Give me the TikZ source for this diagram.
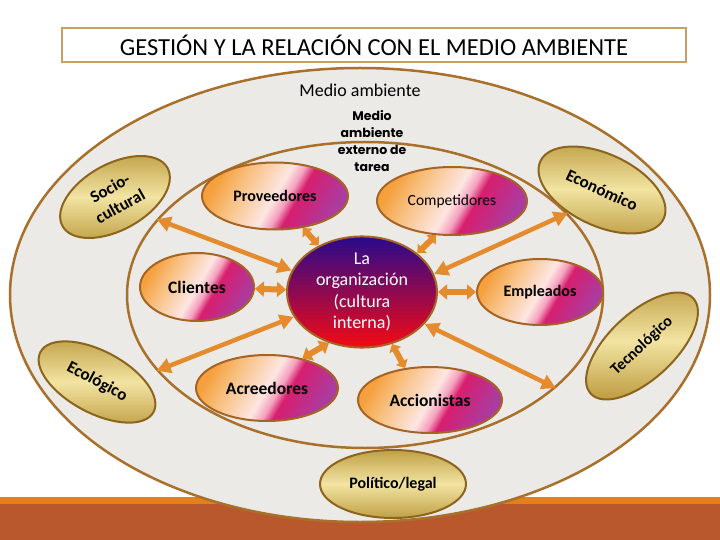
\documentclass[tikz,border=0pt]{standalone}
\usepackage{fontspec}
\setmainfont{Carlito}
\newfontfamily\gothicfont{Poppins}
\usepackage{tikz}
\usetikzlibrary{arrows.meta,shapes.geometric}
\definecolor{titleline}{RGB}{200,160,96}
\definecolor{ringline}{RGB}{168,112,42}
\definecolor{ringfill}{RGB}{236,234,230}
\definecolor{entline}{RGB}{165,100,35}
\definecolor{arrowor}{RGB}{228,140,45}
\definecolor{barorange}{RGB}{226,128,32}
\definecolor{barrust}{RGB}{185,88,45}
\definecolor{goldD}{RGB}{192,160,70}
\definecolor{goldL}{RGB}{242,228,162}
\definecolor{goldline}{RGB}{140,100,30}
\definecolor{orgtop}{RGB}{40,10,140}
\definecolor{orgmid}{RGB}{140,10,130}
\definecolor{orgbot}{RGB}{245,10,20}
\definecolor{entA}{RGB}{245,160,60}
\definecolor{entB}{RGB}{248,192,128}
\definecolor{entC}{RGB}{253,230,226}
\definecolor{entD}{RGB}{245,160,190}
\definecolor{entE}{RGB}{215,30,110}
\definecolor{entF}{RGB}{170,60,160}
\pgfdeclarehorizontalshading{entshade}{100bp}{color(0bp)=(entA); color(25bp)=(entA);
  color(35bp)=(entB); color(50bp)=(entC); color(55bp)=(entD); color(59bp)=(entE);
  color(75bp)=(entF); color(100bp)=(entF)}
\tikzset{
  titlebox/.style={rectangle, draw=titleline, line width=2, fill=white,
                   minimum width=624, minimum height=34, inner sep=0,
                   font=\fontsize{24.5}{28}\selectfont},
  envell/.style  ={ellipse, draw=ringline, line width=2.5, fill=ringfill, inner sep=0},
  taskell/.style ={ellipse, draw=ringline, line width=2.5, inner sep=0},
  gold/.style    ={ellipse, draw=goldline, line width=2, top color=goldD,
                   bottom color=goldD, middle color=goldL, inner sep=0, align=center,
                   font=\bfseries\fontsize{17}{21}\selectfont},
  ent/.style     ={ellipse, draw=entline, line width=2, shading=entshade,
                   shading angle=-30, inner sep=0, font=\bfseries\fontsize{16}{19}\selectfont},
  orgnode/.style ={ellipse, draw=entline, line width=2, top color=orgtop,
                   middle color=orgmid, bottom color=orgbot, inner sep=0, align=center,
                   text=white, font=\fontsize{18}{21.5}\selectfont},
  lbl/.style     ={inner sep=0, font=\fontsize{18}{21}\selectfont},
  lbltask/.style ={inner sep=0, align=center, font=\gothicfont\bfseries\fontsize{12.5}{16.7}\selectfont},
  twoway/.style  ={{Triangle[length=14,width=15]}-{Triangle[length=14,width=15]},
                   line width=4.5, draw=arrowor},
  twowayS/.style ={{Triangle[length=9,width=15]}-{Triangle[length=9,width=15]},
                   line width=6, draw=arrowor},
}

\begin{document}
\begin{tikzpicture}[x=1pt, y=-1pt]
  \useasboundingbox (0,0) rectangle (720,540);
  % franjas inferiores
  \fill[barorange] (0,497) rectangle (720,504);
  \fill[barrust] (0,504) rectangle (720,540);
  \node[titlebox] (title) at (374,45) {GESTIÓN Y LA RELACIÓN CON EL MEDIO AMBIENTE};
  % medio ambiente general
  \node[envell, minimum width=700, minimum height=454] (gen) at (360,295) {};
  \node[lbl] (lblgen) at (360,90) {Medio ambiente};
  \node[gold, rotate=29, minimum width=120, minimum height=66] (socio) at (115,197) {Socio-\\cultural};
  \node[gold, rotate=-25, minimum width=136, minimum height=72] (econ) at (602,190) {Económico};
  \node[gold, rotate=43, minimum width=140, minimum height=66,
        font=\bfseries\fontsize{16}{19}\selectfont] (tecno) at (642,346) {Tecnológico};
  \node[gold, rotate=-28, minimum width=128, minimum height=62] (eco) at (97,382) {Ecológico};
  \node[gold, minimum width=146, minimum height=68,
        font=\bfseries\fontsize{16}{19}\selectfont] (polit) at (393,484) {Político/legal};
  % medio ambiente de tarea
  \node[taskell, minimum width=476, minimum height=306] (task) at (365,295) {};
  \node[lbltask] (lbltask) at (372,141) {Medio\\ambiente\\externo de\\tarea};
  \node[ent, minimum width=146, minimum height=67] (prov) at (275,196) {Proveedores};
  \node[ent, minimum width=150, minimum height=68,
        font=\fontsize{15.5}{19}\selectfont] (comp) at (452,201) {Competidores};
  \node[ent, minimum width=114, minimum height=68,
        font=\bfseries\fontsize{17.5}{20}\selectfont] (cli) at (197,287) {Clientes};
  \node[ent, minimum width=126, minimum height=66] (emp) at (540,292) {Empleados};
  \node[ent, minimum width=142, minimum height=66,
        font=\bfseries\fontsize{17.5}{20}\selectfont] (acr) at (267,388) {Acreedores};
  \node[ent, minimum width=144, minimum height=66,
        font=\bfseries\fontsize{17.5}{20}\selectfont] (acc) at (430,400) {Accionistas};
  % la organizacion
  \node[orgnode, minimum width=150, minimum height=110] (org) at (362,292)
       {La\\organización\\(cultura\\interna)};
  % flechas
  \draw[twoway] (org.163) -- (task.160);
  \draw[twoway] (org.200) -- (task.200);
  \draw[twoway] (org.14) -- (task.22);
  \draw[twoway] (org.-27) -- (task.-26);
  \draw[twowayS] (cli) -- (org);
  \draw[twowayS] (emp) -- (org);
  \draw[twowayS] (acr.40) -- (org.237);
  \draw[twowayS, {Triangle[length=7,width=13]}-{Triangle[length=7,width=13]}] (prov.-49) -- (org.133);
  \draw[twowayS, {Triangle[length=7,width=13]}-{Triangle[length=7,width=13]}] (comp.-115) -- (org.35);
  \draw[twowayS, {Triangle[length=7,width=13]}-{Triangle[length=7,width=13]}] (org.-60) -- (acc.128);
\end{tikzpicture}
\end{document}
